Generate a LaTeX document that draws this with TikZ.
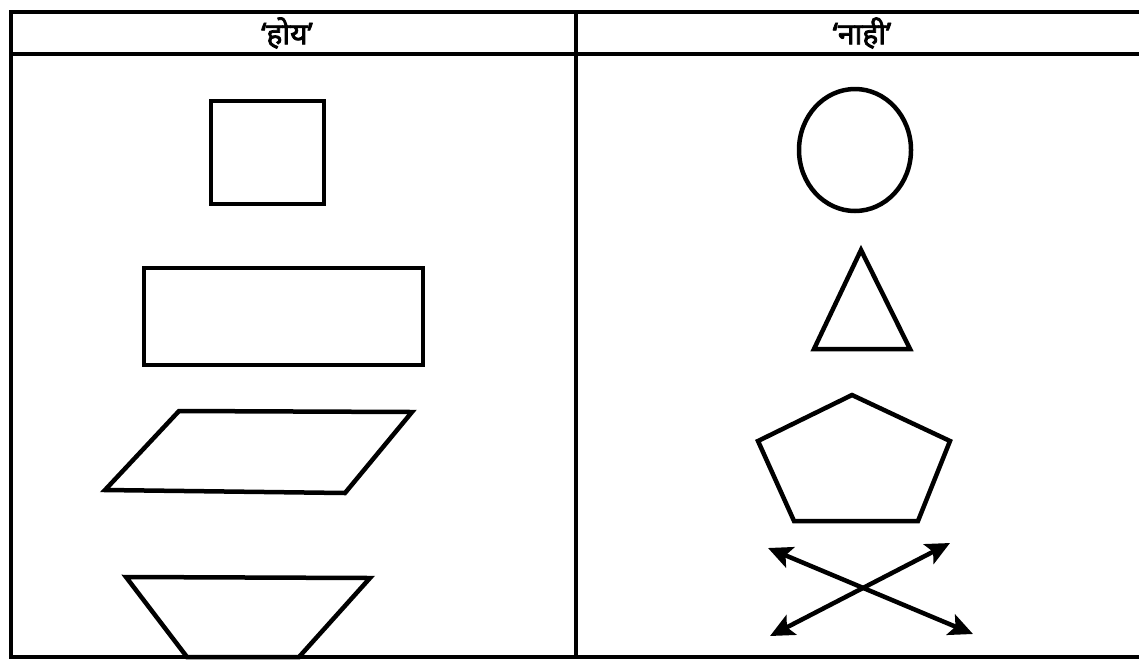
\documentclass[tikz,border=0pt]{standalone}
\usepackage{fontspec}
\newfontfamily\deva[Script=Devanagari,FakeBold=2.5]{Noto Sans}
\usetikzlibrary{arrows.meta}
\tikzset{
  frame/.style={line width=4.5pt},
  figline/.style={line width=4.5pt, line join=miter},
  head/.style={font=\deva\fontsize{30}{32}\selectfont, inner sep=0pt},
  dbl/.style={line width=4.5pt, {Stealth[length=24pt,width=22pt,inset=5pt]}-{Stealth[length=24pt,width=22pt,inset=5pt]}}
}
\begin{document}
\begin{tikzpicture}[x=1pt,y=-1pt]
\useasboundingbox (0,0) rectangle (1139,662);
% table frame
\coordinate (tl) at (11,12);
\coordinate (tr) at (1139,12);
\coordinate (bl) at (11,657);
\coordinate (br) at (1139,657);
\coordinate (hl) at (11,54);
\coordinate (hr) at (1139,54);
\coordinate (dt) at (576,12);
\coordinate (db) at (576,657);
\draw[frame] (tr) -- (tl) -- (bl) -- (br);
\draw[frame] (hl) -- (hr);
\draw[frame] (dt) -- (db);
% headers
\node[head] (yes) at (287,33) {‘होय’};
\node[head] (no) at (862,33) {‘नाही’};
% left column
\draw[figline] (211,101) rectangle (324,204);
\draw[figline] (144,268) rectangle (423,365);
\draw[figline] (105,490) -- (179,411) -- (412,412) -- (345,493) -- cycle;
\draw[figline] (126,577) -- (370,578) -- (299,657) -- (187,657) -- cycle;
% right column
\draw[figline] (855,150) ellipse [x radius=56, y radius=61];
\draw[figline] (861,250) -- (910,349) -- (814,349) -- cycle;
\draw[figline] (852,395) -- (950,441) -- (918,521) -- (794,521) -- (758,441) -- cycle;
\coordinate (a1) at (768,548);
\coordinate (a2) at (973,634);
\coordinate (b1) at (770,636);
\coordinate (b2) at (950,543);
\draw[dbl] (a1) -- (a2);
\draw[dbl] (b1) -- (b2);
\end{tikzpicture}
\end{document}
